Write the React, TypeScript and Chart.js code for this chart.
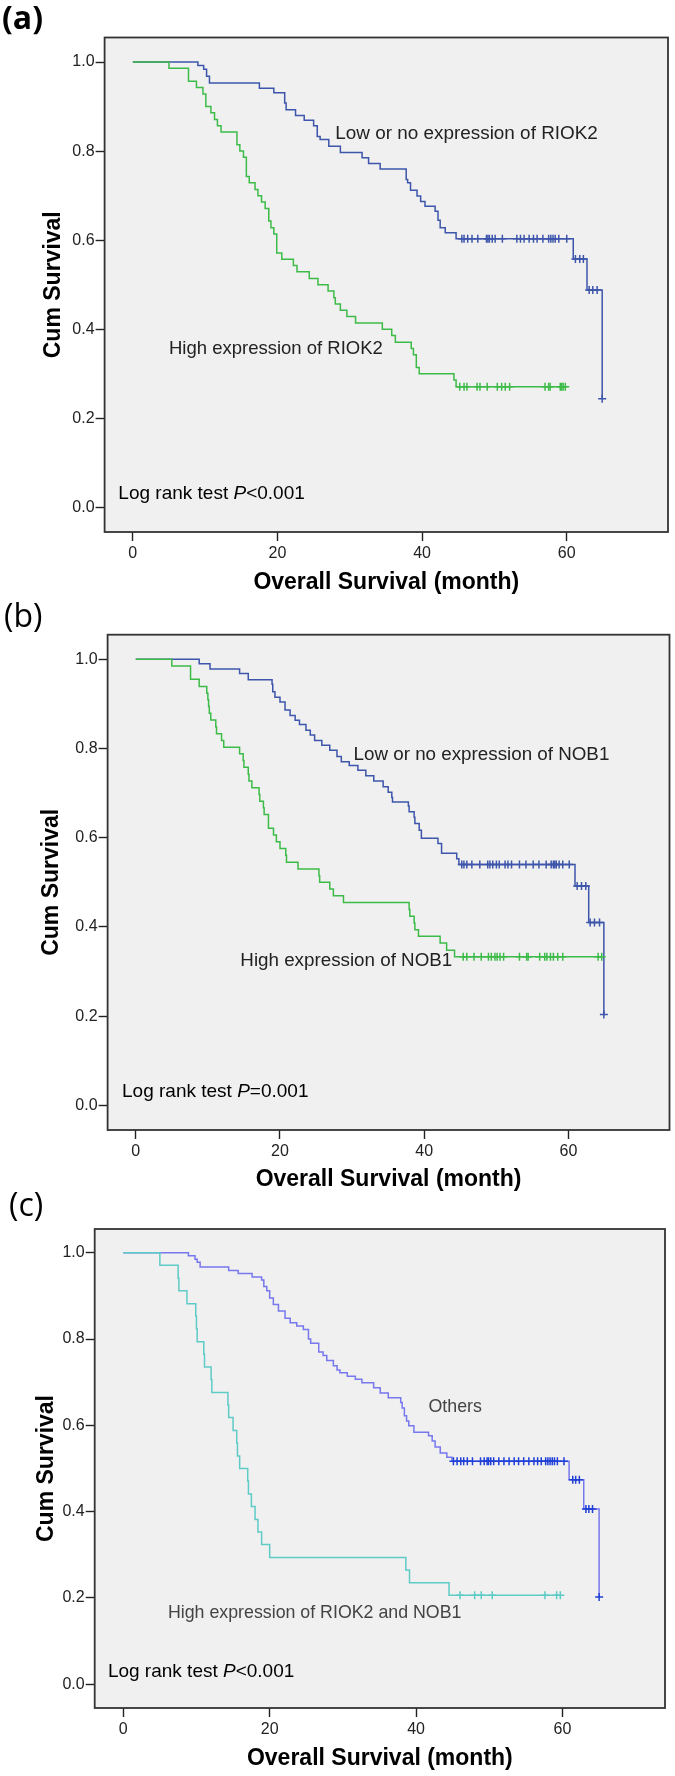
import React, { useEffect, useRef } from "react";
import { Chart, registerables } from "chart.js";

Chart.register(...registerables);

const FONT = '"Liberation Sans", Arial, Helvetica, sans-serif';
const LABEL_FONT = '"Open Sans", "Noto Sans", "Liberation Sans", sans-serif';

const X_TICKS = [0, 20, 40, 60];
const Y_TICKS = [0, 0.2, 0.4, 0.6, 0.8, 1.0];

// ---------- Panel (a): RIOK2 ----------
const A_HIGH_T = [0, 5.0, 7.7, 8.8, 9.7, 10.1, 10.8, 11.3, 11.7, 12.2, 14.4, 14.8, 15.3, 15.7, 16.1, 16.9, 17.3, 17.8, 18.3, 18.8, 19.1, 19.5, 19.9, 20.6, 22.2, 22.7, 24.4, 25.6, 27.0, 27.8, 28.0, 28.7, 29.6, 30.8, 34.5, 35.8, 36.3, 38.5, 38.8, 39.2, 39.6, 44.4, 44.7];
const A_HIGH_S = [1, 0.986, 0.957, 0.943, 0.928, 0.9, 0.886, 0.871, 0.857, 0.843, 0.814, 0.8, 0.786, 0.743, 0.729, 0.714, 0.7, 0.686, 0.671, 0.643, 0.628, 0.614, 0.571, 0.557, 0.543, 0.529, 0.514, 0.5, 0.486, 0.471, 0.457, 0.443, 0.429, 0.414, 0.4, 0.386, 0.371, 0.357, 0.343, 0.314, 0.3, 0.286, 0.271];
const A_HIGH_CENS = [45.2, 45.8, 46.2, 47.6, 48.0, 49.0, 50.4, 51.0, 51.5, 52.1, 57.0, 57.5, 57.7, 59.1, 59.3, 59.5, 59.8];

const A_LOW_T = [0, 9.0, 9.8, 10.2, 10.6, 17.5, 19.5, 21.0, 21.2, 22.5, 23.7, 25.0, 25.5, 25.9, 27.1, 28.7, 31.7, 32.6, 34.2, 37.8, 38.0, 38.4, 39.3, 39.8, 40.4, 41.8, 42.2, 42.5, 43.2, 44.7, 60.9, 62.8, 64.9];
const A_LOW_S = [1, 0.992, 0.984, 0.968, 0.953, 0.941, 0.931, 0.908, 0.893, 0.88, 0.869, 0.857, 0.833, 0.826, 0.811, 0.797, 0.785, 0.772, 0.76, 0.736, 0.729, 0.712, 0.699, 0.687, 0.676, 0.665, 0.645, 0.628, 0.617, 0.603, 0.558, 0.488, 0.244];
const A_LOW_CENS = [45.5, 45.8, 46.3, 46.9, 47.7, 48.9, 49.1, 49.3, 49.7, 50.1, 51.1, 53.1, 53.6, 54.1, 54.8, 55.4, 55.9, 56.7, 57.5, 57.8, 58.1, 58.4, 58.9, 60.0, 61.2, 61.8, 62.3, 63.1, 63.6, 64.2, 64.9];

// ---------- Panel (b): NOB1 ----------
const B_HIGH_T = [0, 5.0, 7.6, 8.8, 9.85, 10.0, 10.1, 10.2, 10.4, 11.1, 11.2, 11.9, 12.2, 14.4, 14.9, 15.0, 15.6, 15.7, 16.1, 17.1, 17.2, 17.7, 17.8, 18.4, 19.1, 19.5, 20.0, 20.8, 20.9, 22.5, 25.4, 25.5, 26.9, 27.4, 28.8, 37.9, 38.0, 38.6, 38.7, 39.2, 42.2, 43.1, 44.2];
const B_HIGH_S = [1, 0.985, 0.955, 0.939, 0.924, 0.909, 0.894, 0.879, 0.864, 0.848, 0.833, 0.818, 0.803, 0.788, 0.773, 0.758, 0.742, 0.727, 0.712, 0.697, 0.682, 0.667, 0.652, 0.621, 0.606, 0.591, 0.576, 0.561, 0.545, 0.53, 0.515, 0.5, 0.485, 0.47, 0.455, 0.439, 0.424, 0.409, 0.394, 0.379, 0.364, 0.348, 0.333];
const B_HIGH_CENS = [45.4, 45.9, 46.9, 47.9, 48.9, 49.3, 49.8, 50.1, 50.5, 51.0, 53.2, 54.2, 54.4, 56.0, 56.7, 57.0, 57.5, 57.9, 58.5, 59.2, 64.1, 64.6];

const B_LOW_T = [0, 8.8, 10.3, 14.4, 15.6, 18.9, 19.0, 19.3, 20.0, 20.7, 21.4, 22.1, 22.7, 23.6, 24.2, 24.8, 25.8, 26.9, 27.9, 28.5, 29.6, 30.8, 31.9, 33.0, 34.3, 35.0, 35.5, 35.6, 37.8, 37.9, 38.6, 38.7, 39.3, 39.6, 41.9, 42.4, 44.5, 44.8, 60.9, 62.8, 64.9];
const B_LOW_S = [1, 0.99, 0.978, 0.968, 0.954, 0.944, 0.927, 0.915, 0.904, 0.886, 0.874, 0.863, 0.854, 0.841, 0.83, 0.818, 0.807, 0.796, 0.782, 0.77, 0.762, 0.751, 0.739, 0.727, 0.714, 0.702, 0.69, 0.68, 0.671, 0.658, 0.646, 0.632, 0.617, 0.599, 0.587, 0.565, 0.553, 0.54, 0.492, 0.41, 0.204];
const B_LOW_CENS = [45.2, 45.5, 45.9, 46.6, 47.7, 48.8, 49.1, 49.5, 50.0, 50.4, 51.2, 51.6, 52.1, 53.2, 54.1, 55.1, 55.9, 56.9, 57.6, 57.9, 58.1, 58.3, 58.7, 59.2, 60.1, 61.2, 61.8, 62.4, 63.0, 63.6, 64.3, 64.9];

// ---------- Panel (c): RIOK2 and NOB1 ----------
const C_HIGH_T = [0, 5.0, 7.5, 7.6, 8.7, 9.9, 10.0, 10.1, 11.0, 11.1, 12.0, 12.1, 14.3, 14.4, 15.0, 15.5, 15.6, 15.9, 17.0, 17.1, 17.5, 18.0, 18.4, 18.9, 20.0, 38.6, 39.1, 44.5];
const C_HIGH_S = [1, 0.971, 0.941, 0.912, 0.882, 0.853, 0.824, 0.794, 0.765, 0.735, 0.706, 0.676, 0.647, 0.618, 0.588, 0.559, 0.529, 0.5, 0.471, 0.441, 0.412, 0.382, 0.353, 0.324, 0.294, 0.265, 0.235, 0.206];
const C_HIGH_CENS = [46.0, 48.0, 48.9, 50.4, 57.6, 59.2, 59.7];

const C_OTH_T = [0, 8.9, 9.8, 10.1, 10.5, 14.4, 15.7, 17.6, 18.9, 19.2, 19.6, 20.0, 20.5, 21.2, 22.1, 22.8, 23.7, 24.6, 25.3, 25.6, 26.7, 27.3, 27.8, 28.7, 29.2, 29.6, 30.6, 31.7, 32.6, 34.2, 35.1, 36.2, 37.9, 38.1, 38.4, 38.7, 39.0, 39.7, 41.7, 42.2, 42.6, 43.3, 44.2, 44.9, 60.9, 62.9, 65.0];
const C_OTH_S = [1, 0.993, 0.985, 0.978, 0.967, 0.959, 0.952, 0.944, 0.937, 0.922, 0.912, 0.895, 0.88, 0.865, 0.848, 0.838, 0.83, 0.822, 0.8, 0.79, 0.77, 0.762, 0.75, 0.738, 0.728, 0.722, 0.714, 0.707, 0.699, 0.687, 0.675, 0.664, 0.653, 0.64, 0.622, 0.61, 0.599, 0.584, 0.576, 0.564, 0.55, 0.536, 0.526, 0.517, 0.474, 0.406, 0.2025];
const C_OTH_CENS = [45.1, 45.6, 46.1, 46.5, 47.0, 47.7, 48.8, 49.3, 49.7, 49.9, 50.2, 50.6, 51.3, 52.0, 52.7, 53.4, 54.0, 54.7, 55.4, 56.1, 56.6, 57.1, 57.7, 58.0, 58.3, 58.6, 58.9, 59.3, 60.2, 61.4, 61.8, 62.3, 63.2, 63.6, 64.1, 65.0];

const COL_BLUE = "#3d55ab";
const COL_GREEN = "#3dbb48";
const COL_VIOLET = "#7777ee";
const COL_VIOLET_CENS = "#1f3fd6";
const COL_TEAL = "#5ecbc6";

type Curve = { t: number[]; s: number[]; cens: number[]; color: string; censColor: string };
type TextPart = { text: string; italic?: boolean };
type Note = { parts: TextPart[]; x: number; y: number; size: number; color: string };
type Panel = {
  top: number; height: number; padTop: number; padRight: number;
  yWidth: number; xHeight: number; xTitlePad: number; yTitlePad: number;
  label: string; labelX: number; labelY: number; labelWeight: string;
  curves: Curve[]; notes: Note[];
};

function survAt(t: number[], s: number[], time: number) {
  let v = s[0];
  for (let i = 0; i < t.length; i++) if (t[i] <= time) v = s[i];
  return v;
}
function stepPoints(c: Curve) {
  const pts = c.t.map((x, i) => ({ x, y: c.s[i] }));
  const last = c.cens[c.cens.length - 1];
  if (last > c.t[c.t.length - 1]) pts.push({ x: last, y: c.s[c.s.length - 1] });
  return pts;
}
function censorPoints(c: Curve) {
  return c.cens.map((x) => ({ x, y: survAt(c.t, c.s, x) }));
}

const PANELS: Panel[] = [
  {
    top: 0, height: 600, padTop: 37.5, padRight: 7, yWidth: 104.6, xHeight: 68, xTitlePad: 3.2, yTitlePad: 40.2,
    label: "(a)", labelX: 2, labelY: 20, labelWeight: "bold",
    curves: [
      { t: A_HIGH_T, s: A_HIGH_S, cens: A_HIGH_CENS, color: COL_GREEN, censColor: COL_GREEN },
      { t: A_LOW_T, s: A_LOW_S, cens: A_LOW_CENS, color: COL_BLUE, censColor: COL_BLUE },
    ],
    notes: [
      { parts: [{ text: "Low or no expression of RIOK2" }], x: 28.0, y: 0.839, size: 18.9, color: "#222" },
      { parts: [{ text: "High expression of RIOK2" }], x: 5.0, y: 0.355, size: 18.5, color: "#222" },
      { parts: [{ text: "Log rank test " }, { text: "P", italic: true }, { text: "<0.001" }], x: -2.0, y: 0.031, size: 19, color: "#000" },
    ],
  },
  {
    top: 596, height: 600, padTop: 38.7, padRight: 5, yWidth: 107.6, xHeight: 66, xTitlePad: 2.2, yTitlePad: 38.2,
    label: "(b)", labelX: 4, labelY: 22, labelWeight: "normal",
    curves: [
      { t: B_HIGH_T, s: B_HIGH_S, cens: B_HIGH_CENS, color: COL_GREEN, censColor: COL_GREEN },
      { t: B_LOW_T, s: B_LOW_S, cens: B_LOW_CENS, color: COL_BLUE, censColor: COL_BLUE },
    ],
    notes: [
      { parts: [{ text: "Low or no expression of NOB1" }], x: 30.2, y: 0.785, size: 18.8, color: "#222" },
      { parts: [{ text: "High expression of NOB1" }], x: 14.5, y: 0.325, size: 18.8, color: "#222" },
      { parts: [{ text: "Log rank test " }, { text: "P", italic: true }, { text: "=0.001" }], x: -1.9, y: 0.031, size: 19, color: "#000" },
    ],
  },
  {
    top: 1176, height: 600, padTop: 53, padRight: 10, yWidth: 94.7, xHeight: 68, xTitlePad: 3.2, yTitlePad: 33.2,
    label: "(c)", labelX: 9, labelY: 31, labelWeight: "normal",
    curves: [
      { t: C_HIGH_T, s: C_HIGH_S, cens: C_HIGH_CENS, color: COL_TEAL, censColor: COL_TEAL },
      { t: C_OTH_T, s: C_OTH_S, cens: C_OTH_CENS, color: COL_VIOLET, censColor: COL_VIOLET_CENS },
    ],
    notes: [
      { parts: [{ text: "Others" }], x: 41.7, y: 0.642, size: 17.8, color: "#444" },
      { parts: [{ text: "High expression of RIOK2 and NOB1" }], x: 6.1, y: 0.166, size: 17.8, color: "#444" },
      { parts: [{ text: "Log rank test " }, { text: "P", italic: true }, { text: "<0.001" }], x: -2.1, y: 0.028, size: 19, color: "#000" },
    ],
  },
];

const decoPlugin = {
  id: "kmDeco",
  beforeDraw(chart: any) {
    const { ctx, chartArea: a } = chart;
    ctx.save();
    ctx.fillStyle = "#f0f0f0";
    ctx.fillRect(a.left, a.top, a.right - a.left, a.bottom - a.top);
    ctx.restore();
  },
  afterDraw(chart: any, _args: any, opts: any) {
    const { ctx, chartArea: a, scales } = chart;
    const panel: Panel = opts.panel;
    ctx.save();
    ctx.strokeStyle = "#333";
    ctx.lineWidth = 1.8;
    ctx.strokeRect(a.left, a.top, a.right - a.left, a.bottom - a.top);
    ctx.textBaseline = "middle";
    ctx.textAlign = "left";
    for (const n of panel.notes) {
      let x = scales.x.getPixelForValue(n.x);
      const y = scales.y.getPixelForValue(n.y);
      ctx.fillStyle = n.color;
      for (const p of n.parts) {
        ctx.font = `${p.italic ? "italic " : ""}${n.size}px ${FONT}`;
        ctx.fillText(p.text, x, y);
        x += ctx.measureText(p.text).width;
      }
    }
    ctx.fillStyle = "#000";
    ctx.font = `${panel.labelWeight} 32px ${LABEL_FONT}`;
    ctx.fillText(panel.label, panel.labelX, panel.labelY);
    ctx.restore();
  },
};

function KMPanel({ panel }: { panel: Panel }) {
  const ref = useRef<HTMLCanvasElement | null>(null);
  useEffect(() => {
    if (!ref.current) return;
    const datasets: any[] = [];
    panel.curves.forEach((c, i) => {
      datasets.push({
        type: "line",
        data: stepPoints(c),
        borderColor: c.color,
        backgroundColor: c.color,
        borderWidth: 1.5,
        stepped: "before",
        pointRadius: 0,
        fill: false,
        order: i * 2 + 1,
      });
      datasets.push({
        type: "line",
        data: censorPoints(c),
        showLine: false,
        pointStyle: "cross",
        pointRadius: 4,
        pointBorderWidth: 1.5,
        pointBorderColor: c.censColor,
        borderColor: c.censColor,
        backgroundColor: c.censColor,
        order: i * 2,
      });
    });
    const tickGrid = {
      display: true,
      drawOnChartArea: false,
      drawTicks: true,
      tickLength: 9,
      tickColor: "#222",
      tickWidth: 1.4,
    };
    const chart = new Chart(ref.current, {
      type: "line",
      data: { datasets },
      plugins: [decoPlugin],
      options: {
        animation: false,
        responsive: false,
        devicePixelRatio: 1,
        layout: { padding: { top: panel.padTop, right: panel.padRight, left: 0, bottom: 0 } },
        plugins: {
          legend: { display: false },
          tooltip: { enabled: false },
          kmDeco: { panel },
        } as any,
        scales: {
          x: {
            type: "linear",
            min: -3.9,
            max: 74,
            afterBuildTicks: (s: any) => { s.ticks = X_TICKS.map((v) => ({ value: v })); },
            afterFit: (s: any) => { s.height = panel.xHeight; },
            grid: tickGrid,
            border: { display: false },
            ticks: {
              color: "#222",
              font: { family: FONT, size: 16 },
              padding: 3,
              maxRotation: 0,
              callback: (v: any) => String(v),
            },
            title: {
              display: true,
              text: "Overall Survival (month)",
              color: "#000",
              font: { family: FONT, size: 23, weight: "bold" },
              padding: { top: 0, bottom: panel.xTitlePad },
            },
          },
          y: {
            type: "linear",
            min: -0.055,
            max: 1.055,
            afterBuildTicks: (s: any) => { s.ticks = Y_TICKS.map((v) => ({ value: v })); },
            afterFit: (s: any) => { s.width = panel.yWidth; },
            grid: tickGrid,
            border: { display: false },
            ticks: {
              color: "#222",
              font: { family: FONT, size: 16 },
              padding: 1,
              callback: (v: any) => Number(v).toFixed(1),
            },
            title: {
              display: true,
              text: "Cum Survival",
              color: "#000",
              font: { family: FONT, size: 23, weight: "bold" },
              padding: { top: panel.yTitlePad, bottom: 0 },
            },
          },
        },
      } as any,
    });
    return () => chart.destroy();
  }, [panel]);
  return (
    <canvas
      ref={ref}
      width={675}
      height={panel.height}
      style={{ position: "absolute", left: 0, top: panel.top, width: 675, height: panel.height }}
    />
  );
}

export default function App() {
  return (
    <div style={{ position: "absolute", left: 0, top: 0, width: 675, height: 1776, background: "#fff" }}>
      {PANELS.map((p) => (
        <KMPanel key={p.label} panel={p} />
      ))}
    </div>
  );
}
